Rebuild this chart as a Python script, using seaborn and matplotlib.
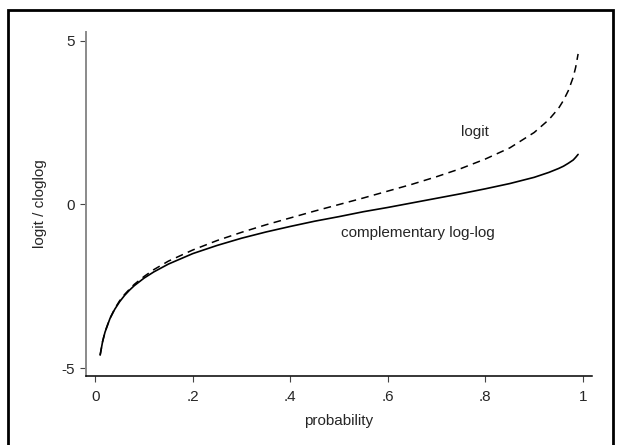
import matplotlib
matplotlib.use("Agg")
import matplotlib.pyplot as plt
import seaborn as sns
import pandas as pd
from matplotlib.patches import Rectangle

# Values
probability = [0.01, 0.015, 0.02, 0.03, 0.04, 0.05, 0.06, 0.07, 0.08, 0.10, 0.12, 0.15,
               0.20, 0.25, 0.30, 0.35, 0.40, 0.45, 0.50, 0.55, 0.60, 0.65, 0.70, 0.75,
               0.80, 0.85, 0.90, 0.93, 0.95, 0.96, 0.97, 0.98, 0.985, 0.99]
logit_vals = [-4.60, -4.19, -3.89, -3.48, -3.18, -2.94, -2.75, -2.59, -2.44, -2.20, -1.99, -1.73,
              -1.39, -1.10, -0.85, -0.62, -0.41, -0.20, 0.00, 0.20, 0.41, 0.62, 0.85, 1.10,
              1.39, 1.73, 2.20, 2.59, 2.94, 3.18, 3.48, 3.89, 4.19, 4.60]
cloglog_vals = [-4.60, -4.19, -3.90, -3.49, -3.20, -2.97, -2.78, -2.62, -2.48, -2.25, -2.06, -1.82,
                -1.50, -1.25, -1.03, -0.84, -0.67, -0.51, -0.37, -0.22, -0.09, 0.05, 0.19, 0.33,
                0.48, 0.64, 0.83, 0.98, 1.10, 1.17, 1.26, 1.36, 1.44, 1.53]
x_ticks = [0, 0.2, 0.4, 0.6, 0.8, 1.0]
x_ticklabels = ["0", ".2", ".4", ".6", ".8", "1"]
y_ticks = [-5, 0, 5]
y_ticklabels = ["-5", "0", "5"]

df = pd.DataFrame({"probability": probability, "logit": logit_vals, "cloglog": cloglog_vals})

sns.set_style("white")
plt.rcParams["font.family"] = ["Liberation Sans", "DejaVu Sans"]
plt.rcParams["font.size"] = 11

fig = plt.figure(figsize=(6.17, 4.45), dpi=100)
ax = fig.add_axes([86 / 617, 1 - 376 / 445, (592 - 86) / 617, (376 - 32) / 445])

sns.lineplot(data=df, x="probability", y="cloglog", ax=ax, color="black", lw=1.2)
sns.lineplot(data=df, x="probability", y="logit", ax=ax, color="black", lw=1.1,
             linestyle=(0, (5, 3.5)))

ax.set_xlim(-0.019, 1.0185)
ax.set_ylim(-5.24, 5.27)
ax.set_xticks(x_ticks)
ax.set_xticklabels(x_ticklabels)
ax.set_yticks(y_ticks)
ax.set_yticklabels(y_ticklabels)
ax.tick_params(axis="both", which="major", bottom=True, left=True, direction="out",
               length=4, width=0.8, color="#444444", labelsize=11, pad=4)
ax.tick_params(axis="x", pad=6)
ax.set_xlabel("probability", fontsize=11, labelpad=7)
ax.set_ylabel("logit / cloglog", fontsize=11, labelpad=10.5)

for s in ["top", "right"]:
    ax.spines[s].set_visible(False)
ax.spines["left"].set_color("#8a8a8a")
ax.spines["left"].set_linewidth(1.4)
ax.spines["bottom"].set_color("black")
ax.spines["bottom"].set_linewidth(1.1)

ax.text(0.778, 2.2, "logit", ha="center", va="center", fontsize=11)
ax.text(0.662, -0.88, "complementary log-log", ha="center", va="center", fontsize=11)

# outer frame
fig.patches.append(Rectangle((8 / 617, -0.05), (613 - 8) / 617, 1 - 10 / 445 + 0.05,
                             transform=fig.transFigure, fill=False, edgecolor="black",
                             linewidth=2.0, zorder=10))

fig.savefig("out.png", dpi=100)
